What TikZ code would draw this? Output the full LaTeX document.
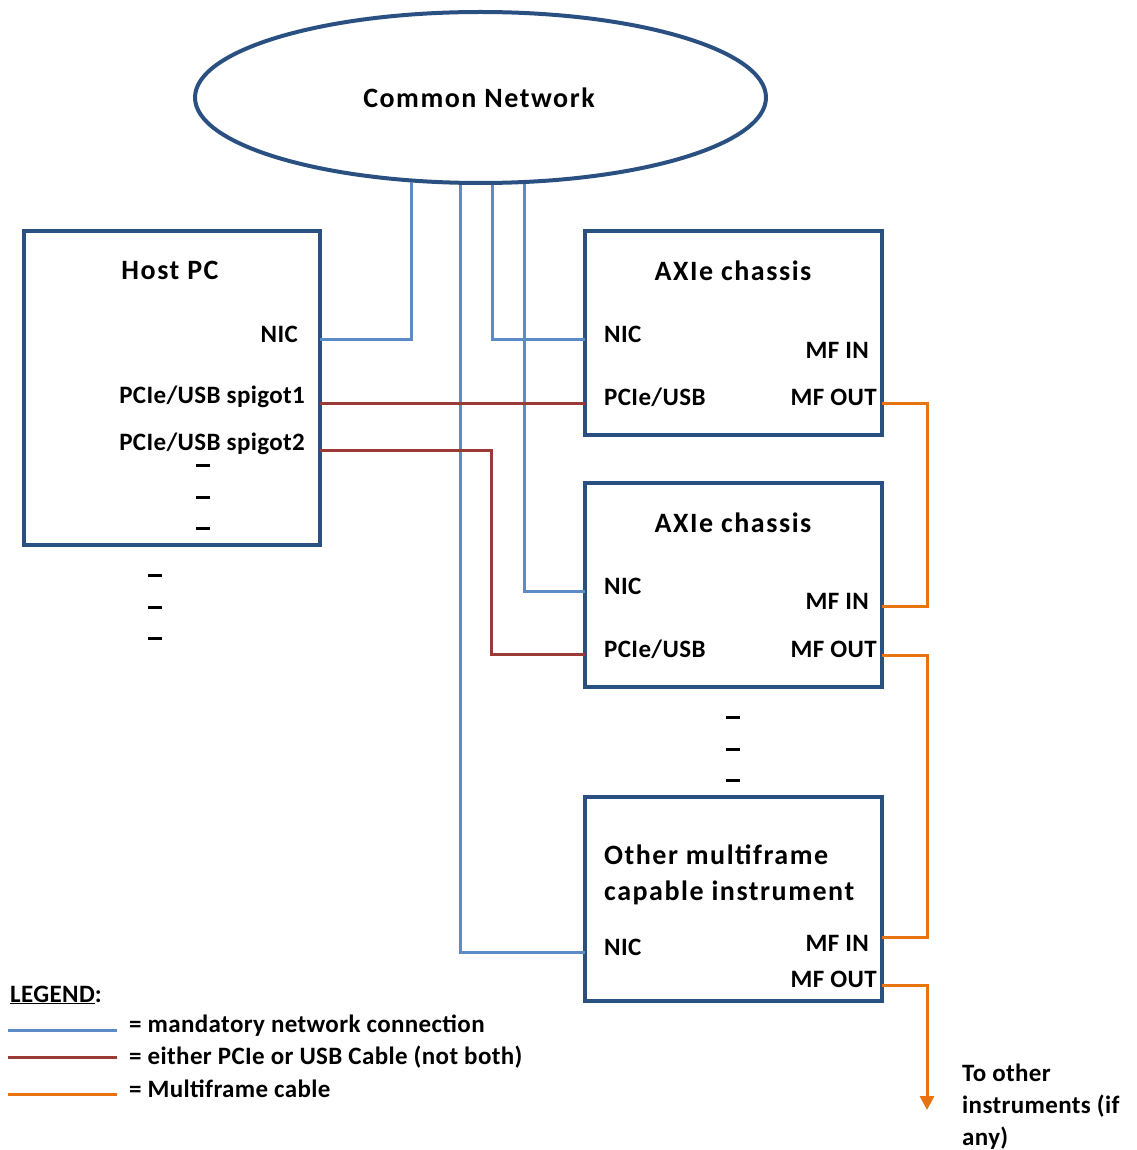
\documentclass[tikz,border=0pt]{standalone}
\usepackage{fontspec}
\setmainfont{Carlito}
\newfontfamily\ttlfont{Carlito}[LetterSpace=5.5]
\newfontfamily\lblfont{Carlito}[LetterSpace=1.5]
\usetikzlibrary{shapes.geometric,arrows.meta}
\definecolor{boxblue}{HTML}{2A5082}
\definecolor{netblue}{HTML}{5B8CC8}
\definecolor{pcired}{HTML}{9A3B38}
\definecolor{mforange}{HTML}{E8730F}
\tikzset{
  box/.style={draw=boxblue, line width=4pt, rectangle, inner sep=0pt},
  lbl/.style={font=\lblfont\fontsize{25}{30}\selectfont\bfseries, inner sep=0pt},
  ttl/.style={font=\ttlfont\fontsize{28}{33}\selectfont\bfseries, inner sep=0pt},
  netw/.style={draw=netblue, line width=3pt},
  pcie/.style={draw=pcired, line width=3pt},
  mf/.style={draw=mforange, line width=3pt},
  dsh/.style={draw=black, line width=3pt},
}
\begin{document}
\begin{tikzpicture}[x=1pt,y=-1pt]
\useasboundingbox (0,0) rectangle (1136,1150);
% network ellipse
\node[ellipse, draw=boxblue, line width=4pt, minimum width=571pt, minimum height=171pt, inner sep=0pt] (net) at (480.5,97.5) {};
\node[ttl] (nettxt) at (479,98) {Common Network};
% boxes
\node[box, minimum width=296pt, minimum height=314pt] (host) at (172,388) {};
\node[box, minimum width=297pt, minimum height=204pt] (ax1) at (733.5,333) {};
\node[box, minimum width=297pt, minimum height=204pt] (ax2) at (733.5,585) {};
\node[box, minimum width=297pt, minimum height=204pt] (oth) at (733.5,899) {};
% host labels
\node[ttl] (hosttitle) at (170,270) {Host PC};
\node[lbl, anchor=east] (hnictxt) at (298,334) {NIC};
\node[lbl, anchor=east] (hsp1) at (305,397) {PCIe/USB spigot1};
\node[lbl, anchor=east] (hsp2) at (305,444) {PCIe/USB spigot2};
% axie 1
\node[ttl] (ax1title) at (733,271) {AXIe chassis};
\node[lbl, anchor=west] (ax1nic) at (604,334) {NIC};
\node[lbl, anchor=east] (ax1mfin) at (869,350) {MF IN};
\node[lbl, anchor=west] (ax1pci) at (604,397) {PCIe/USB};
\node[lbl, anchor=east] (ax1mfout) at (877,397) {MF OUT};
% axie 2
\node[ttl] (ax2title) at (733,523) {AXIe chassis};
\node[lbl, anchor=west] (ax2nic) at (604,586) {NIC};
\node[lbl, anchor=east] (ax2mfin) at (869,601) {MF IN};
\node[lbl, anchor=west] (ax2pci) at (604,649) {PCIe/USB};
\node[lbl, anchor=east] (ax2mfout) at (877,649) {MF OUT};
% other
\node[ttl, anchor=west] (oth1) at (604,855) {Other multiframe};
\node[ttl, anchor=west] (oth2) at (604,893) {capable instrument};
\node[lbl, anchor=west] (othnic) at (604,947) {NIC};
\node[lbl, anchor=east] (othmfin) at (869,943) {MF IN};
\node[lbl, anchor=east] (othmfout) at (877,979) {MF OUT};
% port coordinates
\coordinate (hnic) at (320,339);
\coordinate (hp1) at (320,403);
\coordinate (hp2) at (320,450);
\coordinate (a1nic) at (585,339);
\coordinate (a1pci) at (585,403);
\coordinate (a1out) at (882,403);
\coordinate (a2nic) at (585,591);
\coordinate (a2pci) at (585,654);
\coordinate (a2in) at (882,606);
\coordinate (a2out) at (882,655);
\coordinate (onic) at (585,952);
\coordinate (oin) at (882,937);
\coordinate (oout) at (882,985);
\coordinate (farend) at (927,1110);
% network connections
\draw[netw] (net.-129.04) |- (hnic);
\draw[netw] (net.-82.62) |- (a1nic);
\draw[netw] (net.-63.45) |- (a2nic);
\draw[netw] (net.-103.27) |- (onic);
% pcie
\draw[pcie] (hp1) -- (a1pci);
\draw[pcie] (hp2) -| (491,654) -- (a2pci);
% multiframe
\draw[mf] (a1out) -- (927,403) |- (a2in);
\draw[mf] (a2out) -- (927,655) |- (oin);
\draw[mf, -{Triangle[width=14pt,length=14pt]}] (oout) -| (farend);
\node[lbl, anchor=north west, align=left, font=\lblfont\fontsize{25}{32}\selectfont\bfseries] (tootxt) at (962,1064) {To other\\instruments (if\\any)};
% ellipsis dashes
\foreach \y in {465,497,528} \draw[dsh] (196,\y) -- (210,\y);
\foreach \y in {575,607,638} \draw[dsh] (148,\y) -- (162,\y);
\foreach \y in {717,749,780} \draw[dsh] (726,\y) -- (740,\y);
% legend
\node[lbl, anchor=west] (legtitle) at (10,995) {\underline{LEGEND}:};
\coordinate (l1a) at (8,1030); \coordinate (l1b) at (117,1030);
\coordinate (l2a) at (8,1057); \coordinate (l2b) at (117,1057);
\coordinate (l3a) at (8,1094); \coordinate (l3b) at (117,1094);
\draw[netw] (l1a) -- (l1b);
\draw[pcie] (l2a) -- (l2b);
\draw[mf] (l3a) -- (l3b);
\node[lbl, anchor=west] (leg1) at (129,1026) {= mandatory network connection};
\node[lbl, anchor=west] (leg2) at (129,1057) {= either PCIe or USB Cable (not both)};
\node[lbl, anchor=west] (leg3) at (129,1089) {= Multiframe cable};
\end{tikzpicture}
\end{document}
